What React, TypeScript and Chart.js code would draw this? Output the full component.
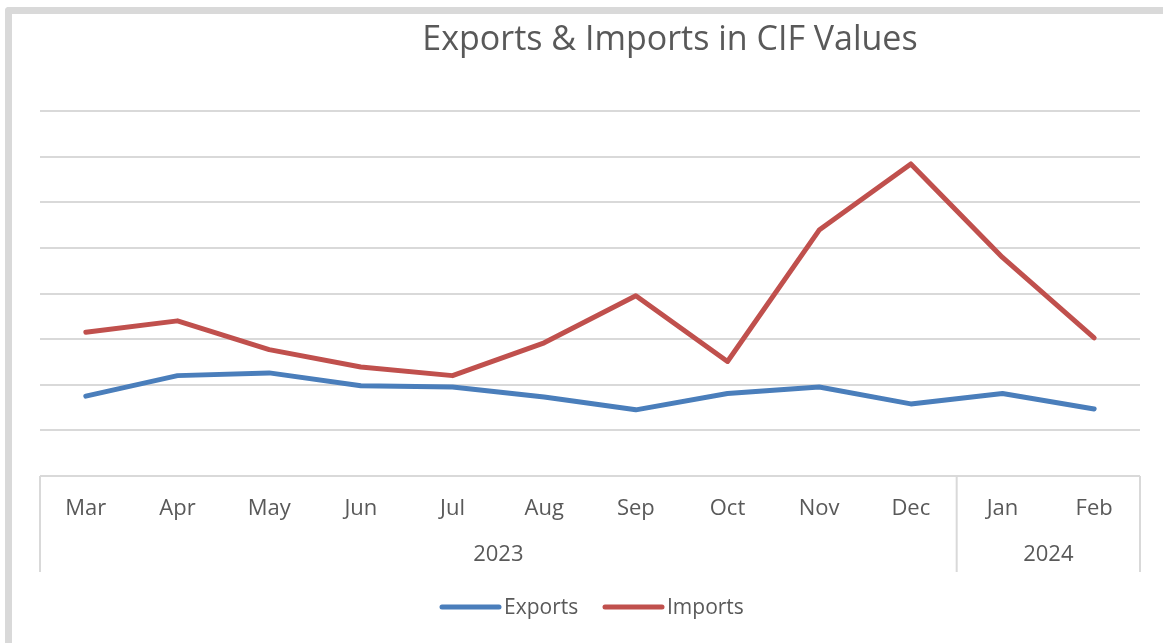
import React, { useEffect, useRef } from "react";
import { Chart, registerables } from "chart.js";

Chart.register(...registerables);

const months = ["Mar", "Apr", "May", "Jun", "Jul", "Aug", "Sep", "Oct", "Nov", "Dec", "Jan", "Feb"];
const yearLabels = ["2023", "2024"];
const yearSpans = [10, 2];
const exportsData = [1.75, 2.2, 2.26, 1.98, 1.95, 1.73, 1.45, 1.81, 1.95, 1.58, 1.81, 1.47];
const importsData = [3.15, 3.4, 2.77, 2.39, 2.2, 2.92, 3.95, 2.51, 5.39, 6.84, 4.79, 3.03];
const seriesNames = ["Exports", "Imports"];
const seriesColors = ["#4a7ebb", "#c0504d"];
const titleText = "Exports & Imports in CIF Values";

const FONT = "'Open Sans', Lato, sans-serif";
const TEXT = "#595959";
const GRID = "#d9d9d9";

const decorPlugin = {
  id: "decor",
  afterDraw(chart: any) {
    const ctx = chart.ctx;
    const x = chart.scales.x;
    const area = chart.chartArea;
    const step = x.getPixelForValue(1) - x.getPixelForValue(0);
    ctx.save();
    // title
    ctx.fillStyle = TEXT;
    ctx.font = `34px ${FONT}`;
    ctx.textAlign = "center";
    ctx.textBaseline = "middle";
    ctx.fillText(titleText, 670, 40);

    // category axis box
    const top = area.bottom;
    const bottom = 572;
    ctx.strokeStyle = GRID;
    ctx.lineWidth = 2;
    let idx = 0;
    const bounds: number[] = [x.getPixelForValue(0) - step / 2];
    yearSpans.forEach((s) => {
      idx += s;
      bounds.push(x.getPixelForValue(idx - 1) + step / 2);
    });
    bounds.forEach((b) => {
      ctx.beginPath();
      ctx.moveTo(b, top);
      ctx.lineTo(b, bottom);
      ctx.stroke();
    });

    // month labels
    ctx.font = `22px ${FONT}`;
    ctx.fillStyle = TEXT;
    months.forEach((m, i) => {
      ctx.fillText(m, x.getPixelForValue(i), 509);
    });
    // year labels
    yearLabels.forEach((y, i) => {
      ctx.fillText(y, (bounds[i] + bounds[i + 1]) / 2, 555);
    });

    // legend
    ctx.font = `21px ${FONT}`;
    const legendY = 607;
    const legendStarts = [442, 605];
    ctx.textAlign = "left";
    seriesNames.forEach((n, i) => {
      const sx = legendStarts[i];
      ctx.strokeStyle = seriesColors[i];
      ctx.lineWidth = 5;
      ctx.lineCap = "round";
      ctx.beginPath();
      ctx.moveTo(sx, legendY);
      ctx.lineTo(sx + 57, legendY);
      ctx.stroke();
      ctx.fillStyle = TEXT;
      ctx.fillText(n, sx + 62, legendY + 1);
    });
    ctx.restore();
  },
};

export default function App() {
  const ref = useRef<HTMLCanvasElement>(null);
  useEffect(() => {
    if (!ref.current) return;
    const chart = new Chart(ref.current, {
      type: "line",
      data: {
        labels: months,
        datasets: [
          {
            label: seriesNames[0],
            data: exportsData,
            borderColor: seriesColors[0],
            borderWidth: 5,
            pointRadius: 0,
            borderCapStyle: "round",
            borderJoinStyle: "round",
            tension: 0,
          },
          {
            label: seriesNames[1],
            data: importsData,
            borderColor: seriesColors[1],
            borderWidth: 5,
            pointRadius: 0,
            borderCapStyle: "round",
            borderJoinStyle: "round",
            tension: 0,
          },
        ],
      },
      options: {
        animation: false,
        responsive: false,
        maintainAspectRatio: false,
        layout: { padding: { left: 40, right: 23, top: 111, bottom: 167 } },
        plugins: { legend: { display: false }, title: { display: false }, tooltip: { enabled: false } },
        scales: {
          x: { type: "category", offset: true, display: false },
          y: {
            min: 0,
            max: 8,
            ticks: { display: false, stepSize: 1 },
            border: { display: false },
            grid: { color: GRID, lineWidth: 2, drawTicks: false },
            afterFit: (s: any) => {
              s.width = 0;
            },
          },
        },
      },
      plugins: [decorPlugin],
    });
    return () => chart.destroy();
  }, []);
  return (
    <div style={{ position: "fixed", left: 0, top: 0, width: 1163, height: 643, background: "#fff", overflow: "hidden" }}>
      <div
        style={{
          position: "absolute",
          left: 5,
          top: 7,
          width: 1200,
          height: 700,
          borderTop: "7px solid #d9d9d9",
          borderLeft: "7px solid #d9d9d9",
          borderTopLeftRadius: 4,
          boxSizing: "border-box",
        }}
      />
      <canvas ref={ref} width={1163} height={643} style={{ position: "absolute", left: 0, top: 0 }} />
    </div>
  );
}
